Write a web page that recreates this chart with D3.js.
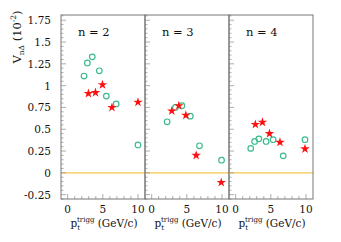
<!DOCTYPE html>
<html>
<head>
<meta charset="utf-8">
<script src="https://cdn.jsdelivr.net/npm/d3@7"></script>
<style>
  body { margin: 0; background: #fff; }
  svg text { font-family: "DejaVu Serif", serif; fill: #111; }
</style>
</head>
<body>
<svg id="chart" width="341" height="242"></svg>
<script>
// panel labels (harmonic n)
var panels = ["n = 2", "n = 3", "n = 4"];

// open green circles, per panel: [pt, V]
var circlesN2 = [[2.33, 1.11], [2.8, 1.26], [3.5, 1.33], [4.5, 1.17], [5.5, 0.88], [6.9, 0.79], [10, 0.32]];
var circlesN3 = [[2.2, 0.585], [3.38, 0.75], [4.3, 0.77], [5.5, 0.65], [6.8, 0.31], [9.94, 0.145]];
var circlesN4 = [[2.14, 0.28], [2.7, 0.36], [3.3, 0.39], [4.33, 0.36], [5.33, 0.38], [6.76, 0.195], [9.86, 0.38]];

// red stars, per panel
var starsN2 = [[2.95, 0.91], [3.95, 0.92], [4.95, 1.01], [6.3, 0.75], [10, 0.81]];
var starsN3 = [[2.86, 0.71], [3.86, 0.77], [4.86, 0.66], [6.33, 0.2], [9.9, -0.11]];
var starsN4 = [[2.8, 0.555], [3.81, 0.58], [4.81, 0.45], [6.3, 0.35], [9.86, 0.275]];

var yTicks = [-0.25, 0, 0.25, 0.5, 0.75, 1, 1.25, 1.5, 1.75];
var xTicks = [0, 5, 10];

var circleSets = [circlesN2, circlesN3, circlesN4];
var starSets = [starsN2, starsN3, starsN4];

var svg = d3.select("#chart");
var plotLeft = 61, plotRight = 313, plotTop = 15, plotBottom = 199;
var pw = (plotRight - plotLeft) / 3;

var y = d3.scaleLinear().domain([-0.3, 1.81]).range([plotBottom, plotTop]);

// y tick labels
svg.selectAll(".ylab").data(yTicks).enter().append("text")
  .attr("x", 51)
  .attr("y", function(d) { return y(d) + 4; })
  .attr("text-anchor", "end")
  .attr("font-size", 10.5)
  .text(function(d) { return d; });

// y title
var yt = svg.append("text")
  .attr("transform", "translate(21,37) rotate(-90)")
  .attr("text-anchor", "middle")
  .attr("font-size", 11.5);
yt.append("tspan").text("V");
yt.append("tspan").attr("font-size", 7.5).attr("dy", 3).text("nΔ");
yt.append("tspan").attr("dy", -3).text(" (10");
yt.append("tspan").attr("font-size", 7.5).attr("dy", -5).text("-2");
yt.append("tspan").attr("dy", 5).text(")");

panels.forEach(function(label, i) {
  var x0 = plotLeft + i * pw;
  var x = d3.scaleLinear().domain([-0.95, 11]).range([x0, x0 + pw]);
  var g = svg.append("g");

  // zero line
  g.append("line")
    .attr("x1", x0).attr("x2", x0 + pw)
    .attr("y1", y(0)).attr("y2", y(0))
    .attr("stroke", "#f2c84b").attr("stroke-width", 1.2);

  // y ticks on left edge
  d3.range(-0.3, 1.81, 0.05).forEach(function(v) {
    var major = Math.abs(v / 0.25 - Math.round(v / 0.25)) < 1e-6;
    g.append("line")
      .attr("x1", x0).attr("x2", x0 + (major ? 5 : 2.5))
      .attr("y1", y(v)).attr("y2", y(v))
      .attr("stroke", "#999").attr("stroke-width", 0.8);
  });

  // x ticks
  d3.range(0, 11, 1).forEach(function(v) {
    var major = v % 5 === 0;
    g.append("line")
      .attr("x1", x(v)).attr("x2", x(v))
      .attr("y1", plotBottom).attr("y2", plotBottom - (major ? 5 : 3))
      .attr("stroke", "#999").attr("stroke-width", 0.8);
  });

  // frame
  g.append("rect")
    .attr("x", x0).attr("y", plotTop)
    .attr("width", pw).attr("height", plotBottom - plotTop)
    .attr("fill", "none").attr("stroke", "#777").attr("stroke-width", 1);

  // x tick labels
  g.selectAll(".xlab").data(xTicks).enter().append("text")
    .attr("x", function(d) { return x(d); })
    .attr("y", 213)
    .attr("text-anchor", "middle")
    .attr("font-size", 10.5)
    .text(function(d) { return d; });

  // x title
  var xt = g.append("text")
    .attr("x", x0 + pw / 2 + 1).attr("y", 227)
    .attr("text-anchor", "middle")
    .attr("font-size", 10.5);
  xt.append("tspan").text("p");
  xt.append("tspan").attr("font-size", 7).attr("dy", 3).text("t");
  xt.append("tspan").attr("font-size", 7).attr("dx", -3).attr("dy", -8).text("trigg");
  xt.append("tspan").attr("dy", 5).text(" (GeV/c)");

  // panel label
  g.append("text")
    .attr("x", x0 + 17).attr("y", 36)
    .attr("font-size", 11.5)
    .text(label);

  // circles
  g.selectAll(".c").data(circleSets[i]).enter().append("circle")
    .attr("cx", function(d) { return x(d[0]); })
    .attr("cy", function(d) { return y(d[1]); })
    .attr("r", 2.8)
    .attr("fill", "none")
    .attr("stroke", "#3dbb8c")
    .attr("stroke-width", 1.2);

  // stars
  g.selectAll(".s").data(starSets[i]).enter().append("path")
    .attr("d", d3.symbol().type(d3.symbolStar).size(28))
    .attr("transform", function(d) { return "translate(" + x(d[0]) + "," + y(d[1]) + ")"; })
    .attr("fill", "#ff1010");
});
</script>
</body>
</html>
